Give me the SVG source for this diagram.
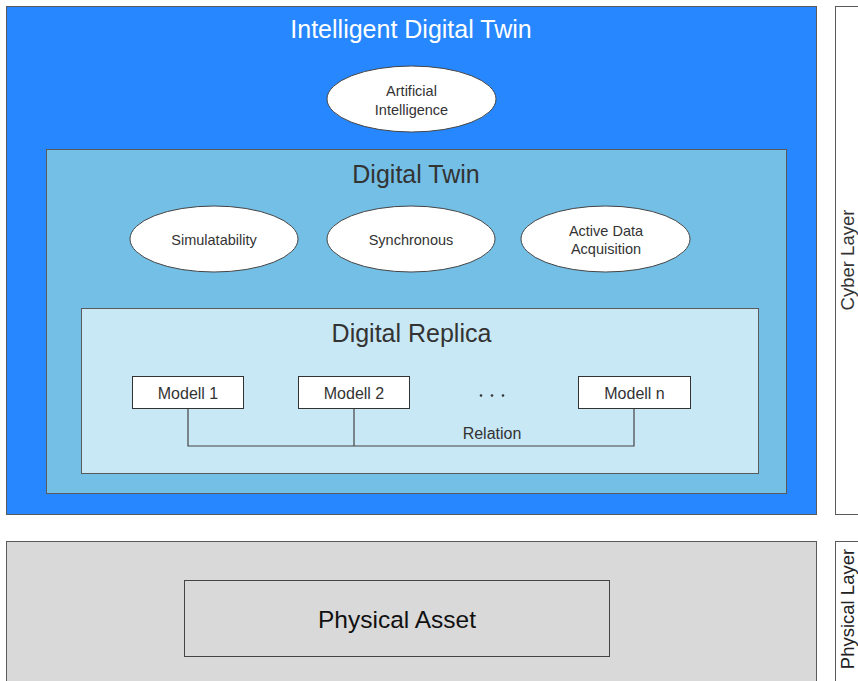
<svg xmlns="http://www.w3.org/2000/svg" width="858" height="681" viewBox="0 0 858 681">
<style>
text{font-family:"Liberation Sans",Arial,sans-serif;text-anchor:middle}
.frame{stroke:#5a5a5a;stroke-width:1}
.ell{fill:#ffffff;stroke:#444;stroke-width:1}
.et{font-size:14.5px;fill:#333}
.box{fill:#ffffff;stroke:#333;stroke-width:1}
.mt{font-size:16px;fill:#333}
.title{font-size:25px;fill:#333}
.conn{fill:none;stroke:#444;stroke-width:1.2}
</style>
<rect width="858" height="681" fill="#ffffff"/>
<g id="cyber-layer-label">
<rect x="835.5" y="6.5" width="40" height="508" fill="#ffffff" class="frame"/>
<text transform="translate(853.5,260) rotate(-90)" font-size="18.5" fill="#333">Cyber Layer</text>
</g>
<g id="physical-layer-label">
<rect x="835.5" y="541.5" width="40" height="160" fill="#ffffff" class="frame"/>
<text transform="translate(853.5,609) rotate(-90)" font-size="18.5" fill="#222">Physical Layer</text>
</g>
<g id="intelligent-digital-twin">
<rect x="6.5" y="6.5" width="810" height="508" fill="#2787ff" class="frame"/>
<text x="411" y="38" font-size="25" fill="#ffffff">Intelligent Digital Twin</text>
</g>
<g id="artificial-intelligence">
<ellipse cx="411.5" cy="99" rx="84.5" ry="33" class="ell"/>
<text class="et" x="411.5" y="96">Artificial</text>
<text class="et" x="411.5" y="115">Intelligence</text>
</g>
<g id="digital-twin">
<rect x="46.5" y="149.5" width="740" height="344" fill="#74bfe6" class="frame"/>
<text class="title" x="416" y="183">Digital Twin</text>
</g>
<g id="simulatability">
<ellipse cx="214" cy="239" rx="84" ry="33" class="ell"/>
<text class="et" x="214" y="245">Simulatability</text>
</g>
<g id="synchronous">
<ellipse cx="411" cy="239" rx="84" ry="33" class="ell"/>
<text class="et" x="411" y="245">Synchronous</text>
</g>
<g id="active-data-acquisition">
<ellipse cx="605.5" cy="239" rx="84.5" ry="33" class="ell"/>
<text class="et" x="606" y="236">Active Data</text>
<text class="et" x="606" y="254">Acquisition</text>
</g>
<g id="digital-replica">
<rect x="81.5" y="308.5" width="677" height="165" fill="#c9e8f5" class="frame"/>
<text class="title" x="411.5" y="342">Digital Replica</text>
</g>
<g id="connectors">
<path class="conn" d="M188,408.5 V446 H634 V408.5 M354,408.5 V446"/>
<text x="492" y="439" font-size="16" fill="#333">Relation</text>
</g>
<g id="modell-1">
<rect x="132.5" y="376.5" width="111" height="32" class="box"/>
<text class="mt" x="188" y="398.5">Modell 1</text>
</g>
<g id="modell-2">
<rect x="298.5" y="376.5" width="111" height="32" class="box"/>
<text class="mt" x="354" y="398.5">Modell 2</text>
</g>
<g id="ellipsis">
<circle cx="481" cy="395.5" r="1.3" fill="#333"/>
<circle cx="492" cy="395.5" r="1.3" fill="#333"/>
<circle cx="503" cy="395.5" r="1.3" fill="#333"/>
</g>
<g id="modell-n">
<rect x="578.5" y="376.5" width="112" height="32" class="box"/>
<text class="mt" x="634.5" y="398.5">Modell n</text>
</g>
<g id="physical-layer">
<rect x="6.5" y="541.5" width="810" height="160" fill="#d9d9d9" class="frame"/>
</g>
<g id="physical-asset">
<rect x="184.5" y="580.5" width="425" height="76" fill="#d9d9d9" stroke="#444" stroke-width="1"/>
<text x="397" y="628" font-size="24.5" fill="#111">Physical Asset</text>
</g>
</svg>
